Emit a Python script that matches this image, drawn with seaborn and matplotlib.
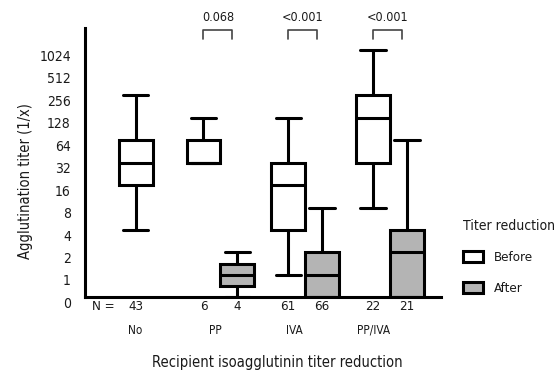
import numpy as np
import pandas as pd
import seaborn as sns
import matplotlib.pyplot as plt
import matplotlib.transforms as mtransforms

groups = ["No", "PP", "IVA", "PP/IVA"]
phases = ["Before", "After"]

# one entry per box, values in axis steps (0 = 0, 1 = 1, 2 = 2, 3 = 4 ... 11 = 1024)
box_group = ["No", "PP", "PP", "IVA", "IVA", "PP/IVA", "PP/IVA"]
box_phase = ["Before", "Before", "After", "Before", "After", "Before", "After"]
whisker_low = [3, 6, 0, 1, 0, 4, 0]
quart_low = [5, 6, 0.5, 3, 0, 6, 0]
medians = [6, 6, 1, 5, 1, 8, 2]
quart_high = [7, 7, 1.5, 6, 2, 9, 3]
whisker_high = [9, 8, 2, 8, 4, 11, 7]
n_counts = [43, 6, 4, 61, 66, 22, 21]

p_groups = ["PP", "IVA", "PP/IVA"]
p_labels = ["0.068", "<0.001", "<0.001"]

titer_ticks = ["0", "1", "2", "4", "8", "16", "32", "64", "128", "256", "512", "1024"]

# five points per box -> with whis=(0, 100) they give exactly these stats
rows = []
for i in range(len(box_group)):
    for v in (whisker_low[i], quart_low[i], medians[i], quart_high[i], whisker_high[i]):
        rows.append({"Group": box_group[i], "Titer reduction": box_phase[i], "Step": v})
df = pd.DataFrame(rows)

sns.set_theme(style="white")
plt.rcParams["font.family"] = ["DejaVu Sans"]
plt.rcParams["font.stretch"] = "condensed"
plt.rcParams["text.color"] = "#1a1a1a"
plt.rcParams["axes.labelcolor"] = "#1a1a1a"
plt.rcParams["xtick.color"] = "#1a1a1a"
plt.rcParams["ytick.color"] = "#1a1a1a"

fig = plt.figure(figsize=(5.58, 3.76), dpi=100)
ax = fig.add_axes([0.152, 0.209, 0.638, 0.717])

palette = {"Before": "white", "After": "#b4b4b4"}
box_kws = dict(x="Group", y="Step", hue="Titer reduction", order=groups,
               hue_order=phases, palette=palette, saturation=1, whis=(0, 100),
               linecolor="black", linewidth=2.2, fliersize=0, capwidths=0.3, ax=ax)

# "No" has only a Before box, drawn centred in its slot
sns.boxplot(data=df[df["Group"] == "No"], dodge=False, width=0.4, legend=False, **box_kws)
sns.boxplot(data=df[df["Group"] != "No"], dodge=True, width=0.8, **box_kws)

ax.set_xlim(-0.6, 3.6)
ax.set_ylim(0, 12)
ax.set_yticks(range(len(titer_ticks)), titer_ticks)
ax.set_xticks(np.arange(len(groups)) * 0.935, groups)
ax.tick_params(axis="y", length=0, pad=10, labelsize=10)
ax.tick_params(axis="x", length=0, pad=19, labelsize=8.5)
shift = mtransforms.ScaledTranslation(0, -0.05, fig.dpi_scale_trans)
for lab in ax.get_yticklabels():
    lab.set_transform(lab.get_transform() + shift)

for side in ["top", "right"]:
    ax.spines[side].set_visible(False)
for side in ["left", "bottom"]:
    ax.spines[side].set_color("black")
    ax.spines[side].set_linewidth(2.2)

ax.set_ylabel("Agglutination titer (1/x)", fontsize=10.5)
ax.yaxis.set_label_coords(-0.146, 0.43)
ax.set_xlabel("Recipient isoagglutinin titer reduction", fontsize=10.5)
ax.xaxis.set_label_coords(0.54, -0.215)

# N row under the boxes
box_x = []
for g, ph in zip(box_group, box_phase):
    i = groups.index(g)
    box_x.append(i if g == "No" else i + (-0.2 if ph == "Before" else 0.2))
ax.text(-0.38, -0.42, "N =", ha="center", va="center", fontsize=9.5, clip_on=False)
for x, n in zip(box_x, n_counts):
    ax.text(x, -0.42, str(n), ha="center", va="center", fontsize=9.5, clip_on=False)

# significance brackets
for g, p in zip(p_groups, p_labels):
    i = groups.index(g)
    x0, x1 = i - 0.2, i + 0.14
    ax.plot([x0, x0, x1, x1], [11.5, 11.9, 11.9, 11.5], color="#444444", lw=1.2, clip_on=False)
    ax.text((x0 + x1) / 2, 12.45, p, ha="center", va="center", fontsize=9, clip_on=False)

sns.move_legend(ax, "upper left", bbox_to_anchor=(1.03, 0.335), frameon=False,
                title="Titer reduction", fontsize=9.5, title_fontsize=10,
                handlelength=1.5, handleheight=0.9, labelspacing=1.35)
ax.get_legend()._legend_box.align = "left"

fig.savefig("out.png", dpi=100)
